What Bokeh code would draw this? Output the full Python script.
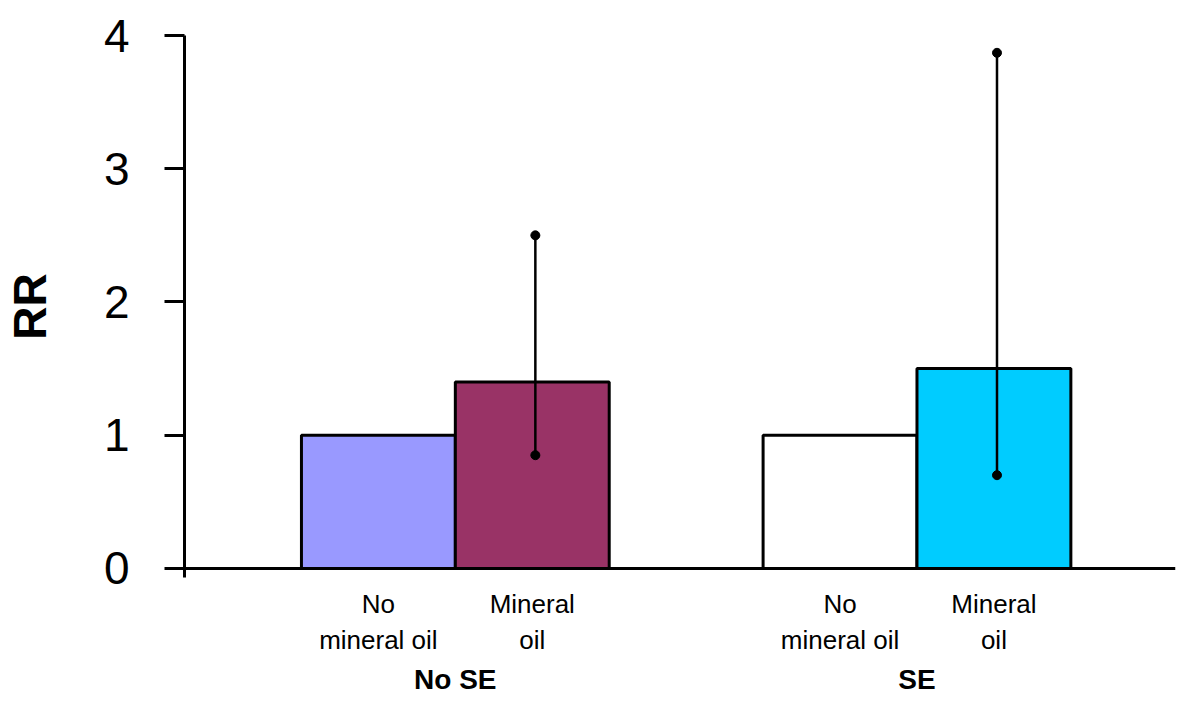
from bokeh.plotting import figure
from bokeh.models import Range1d, FixedTicker, LinearAxis, Span, ColumnDataSource
from bokeh.embed import file_html
from bokeh.resources import INLINE

groups = ["No SE", "SE"]
conditions = ["No\nmineral oil", "Mineral\noil"]
rr = [[1.0, 1.4], [1.0, 1.5]]
ci_low = [[None, 0.85], [None, 0.70]]
ci_high = [[None, 2.50], [None, 3.87]]
colors = [["#9999FF", "#993366"], ["#FFFFFF", "#00CCFF"]]
y_ticks = [0, 1, 2, 3, 4]

FONT = "Liberation Sans"

xs, tops, fills = [], [], []
ex, elo, ehi = [], [], []
cond_ticks, cond_labels, grp_ticks, grp_labels = [], [], [], []
for gi, g in enumerate(groups):
    for bi, c in enumerate(conditions):
        x = gi * 3 + bi + 1
        xs.append(x)
        tops.append(rr[gi][bi])
        fills.append(colors[gi][bi])
        cond_ticks.append(x)
        cond_labels.append(c)
        if ci_low[gi][bi] is not None:
            ex.append(x + 0.02)
            elo.append(ci_low[gi][bi])
            ehi.append(ci_high[gi][bi])
    grp_ticks.append(gi * 3 + 1.5)
    grp_labels.append(g)

p = figure(width=1184, height=697, output_backend="svg", toolbar_location=None,
           x_range=Range1d(-0.26, 6.18), y_range=Range1d(-0.068, 4.0))
p.min_border_left = 183
p.min_border_right = 9
p.min_border_top = 35
p.min_border_bottom = 10
p.outline_line_color = None
p.xgrid.visible = False
p.ygrid.visible = False
p.background_fill_color = "white"

src = ColumnDataSource(dict(x=xs, top=tops, fill=fills))
p.vbar(x="x", top="top", bottom=0, width=1.0, fill_color="fill", line_color="black",
       line_width=3, source=src)

esrc = ColumnDataSource(dict(x=ex, lo=elo, hi=ehi))
p.segment(x0="x", y0="lo", x1="x", y1="hi", line_color="black", line_width=2.5, source=esrc)
p.scatter(x="x", y="lo", size=9, color="black", source=esrc)
p.scatter(x="x", y="hi", size=9, color="black", source=esrc)

p.add_layout(Span(location=0, dimension="width", line_color="black", line_width=3))

ya = p.yaxis[0]
ya.ticker = FixedTicker(ticks=y_ticks)
ya.axis_line_width = 3
ya.major_tick_line_width = 3
ya.major_tick_out = 20
ya.major_tick_in = 0
ya.minor_tick_line_color = None
ya.major_label_standoff = 35
ya.major_label_text_font = FONT
ya.major_label_text_font_size = "46px"
ya.major_label_text_color = "black"
ya.axis_label = "RR"
ya.axis_label_text_font = FONT
ya.axis_label_text_font_size = "46px"
ya.axis_label_text_font_style = "bold"
ya.axis_label_standoff = 45
ya.axis_label_text_color = "black"

xa = p.xaxis[0]
xa.ticker = FixedTicker(ticks=cond_ticks)
xa.major_label_overrides = {t: l for t, l in zip(cond_ticks, cond_labels)}
xa.axis_line_color = None
xa.major_tick_line_color = None
xa.minor_tick_line_color = None
xa.major_label_standoff = 5
xa.major_label_text_font = FONT
xa.major_label_text_font_size = "26px"
xa.major_label_text_color = "black"

ga = LinearAxis(ticker=FixedTicker(ticks=grp_ticks),
                major_label_overrides={t: l for t, l in zip(grp_ticks, grp_labels)})
ga.axis_line_color = None
ga.major_tick_line_color = None
ga.minor_tick_line_color = None
ga.major_label_standoff = 0
ga.major_label_text_font = FONT
ga.major_label_text_font_size = "28px"
ga.major_label_text_font_style = "bold"
ga.major_label_text_color = "black"
p.add_layout(ga, "below")

open("out.html", "w").write(file_html(p, INLINE))
